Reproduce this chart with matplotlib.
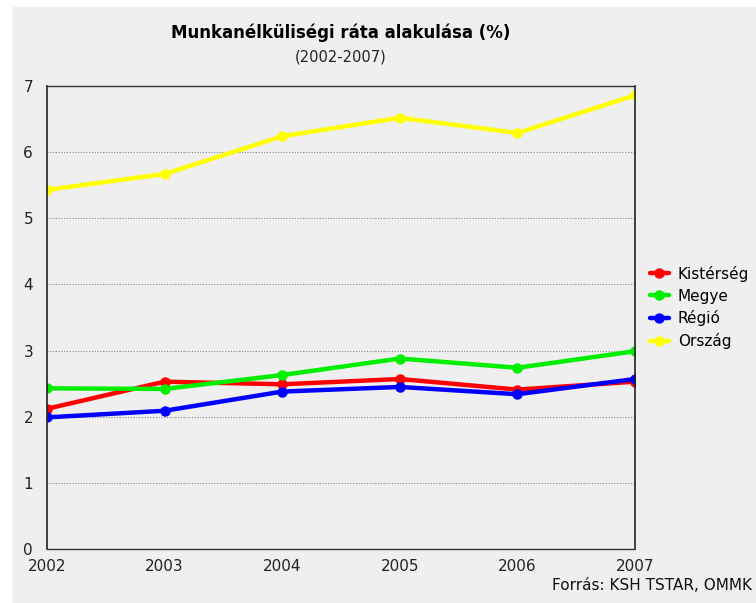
import matplotlib.pyplot as plt

years = [2002, 2003, 2004, 2005, 2006, 2007]
kisterseg = [2.12, 2.53, 2.49, 2.57, 2.41, 2.53]
megye = [2.43, 2.42, 2.63, 2.88, 2.74, 2.99]
regio = [1.99, 2.09, 2.38, 2.45, 2.34, 2.57]
orszag = [5.43, 5.67, 6.24, 6.52, 6.29, 6.86]

series = [
    ("Kistérség", kisterseg, "#ff0000"),
    ("Megye", megye, "#00ee00"),
    ("Régió", regio, "#0000ff"),
    ("Ország", orszag, "#ffff00"),
]

bg = "#efefef"
fig = plt.figure(figsize=(7.56, 6.03), dpi=100)
fig.patch.set_facecolor("white")
# light gray panel, with small white margin top/left
fig.add_artist(plt.Rectangle((13 / 756, 0), 1, 1 - 7 / 603,
                             transform=fig.transFigure, color=bg, zorder=-10))

ax = fig.add_axes([47 / 756, 1 - 549 / 603, (635 - 47) / 756, (549 - 86) / 603])
ax.set_facecolor(bg)

for name, vals, col in series:
    ax.plot(years, vals, color=col, linewidth=3.2, marker="o", markersize=6.5,
            label=name, solid_capstyle="round")

ax.set_xlim(2002, 2007)
ax.set_ylim(0, 7)
ax.set_xticks(years)
ax.set_yticks(range(8))
ax.tick_params(length=0, labelsize=11, colors="#222222")
ax.tick_params(axis="y", pad=10)
ax.tick_params(axis="x", pad=7)
ax.yaxis.grid(True, linestyle=(0, (1, 1.5)), color="#888888", linewidth=0.8)
ax.set_axisbelow(True)

for s in ["left", "right"]:
    ax.spines[s].set_color("#222222")
    ax.spines[s].set_linewidth(1.2)
for s in ["top", "bottom"]:
    ax.spines[s].set_linestyle((0, (1, 1)))
    ax.spines[s].set_color("#333333")
    ax.spines[s].set_linewidth(1.0)

ax.legend(loc="upper left", bbox_to_anchor=(1.0, 0.645), frameon=False,
          fontsize=11, handlelength=1.2, handletextpad=0.6, labelspacing=0.45,
          borderaxespad=0.6)

fig.text(341 / 756, 1 - 33 / 603, "Munkanélküliségi ráta alakulása (%)",
         ha="center", va="center", fontsize=12, fontweight="bold")
fig.text(341 / 756, 1 - 57 / 603, "(2002-2007)", ha="center", va="center",
         fontsize=10.5, color="#222222")
fig.text(752 / 756, 1 - 585 / 603, "Forrás: KSH TSTAR, OMMK", ha="right",
         va="center", fontsize=11, color="#111111")

fig.savefig("out.png", dpi=100, facecolor=fig.get_facecolor())
